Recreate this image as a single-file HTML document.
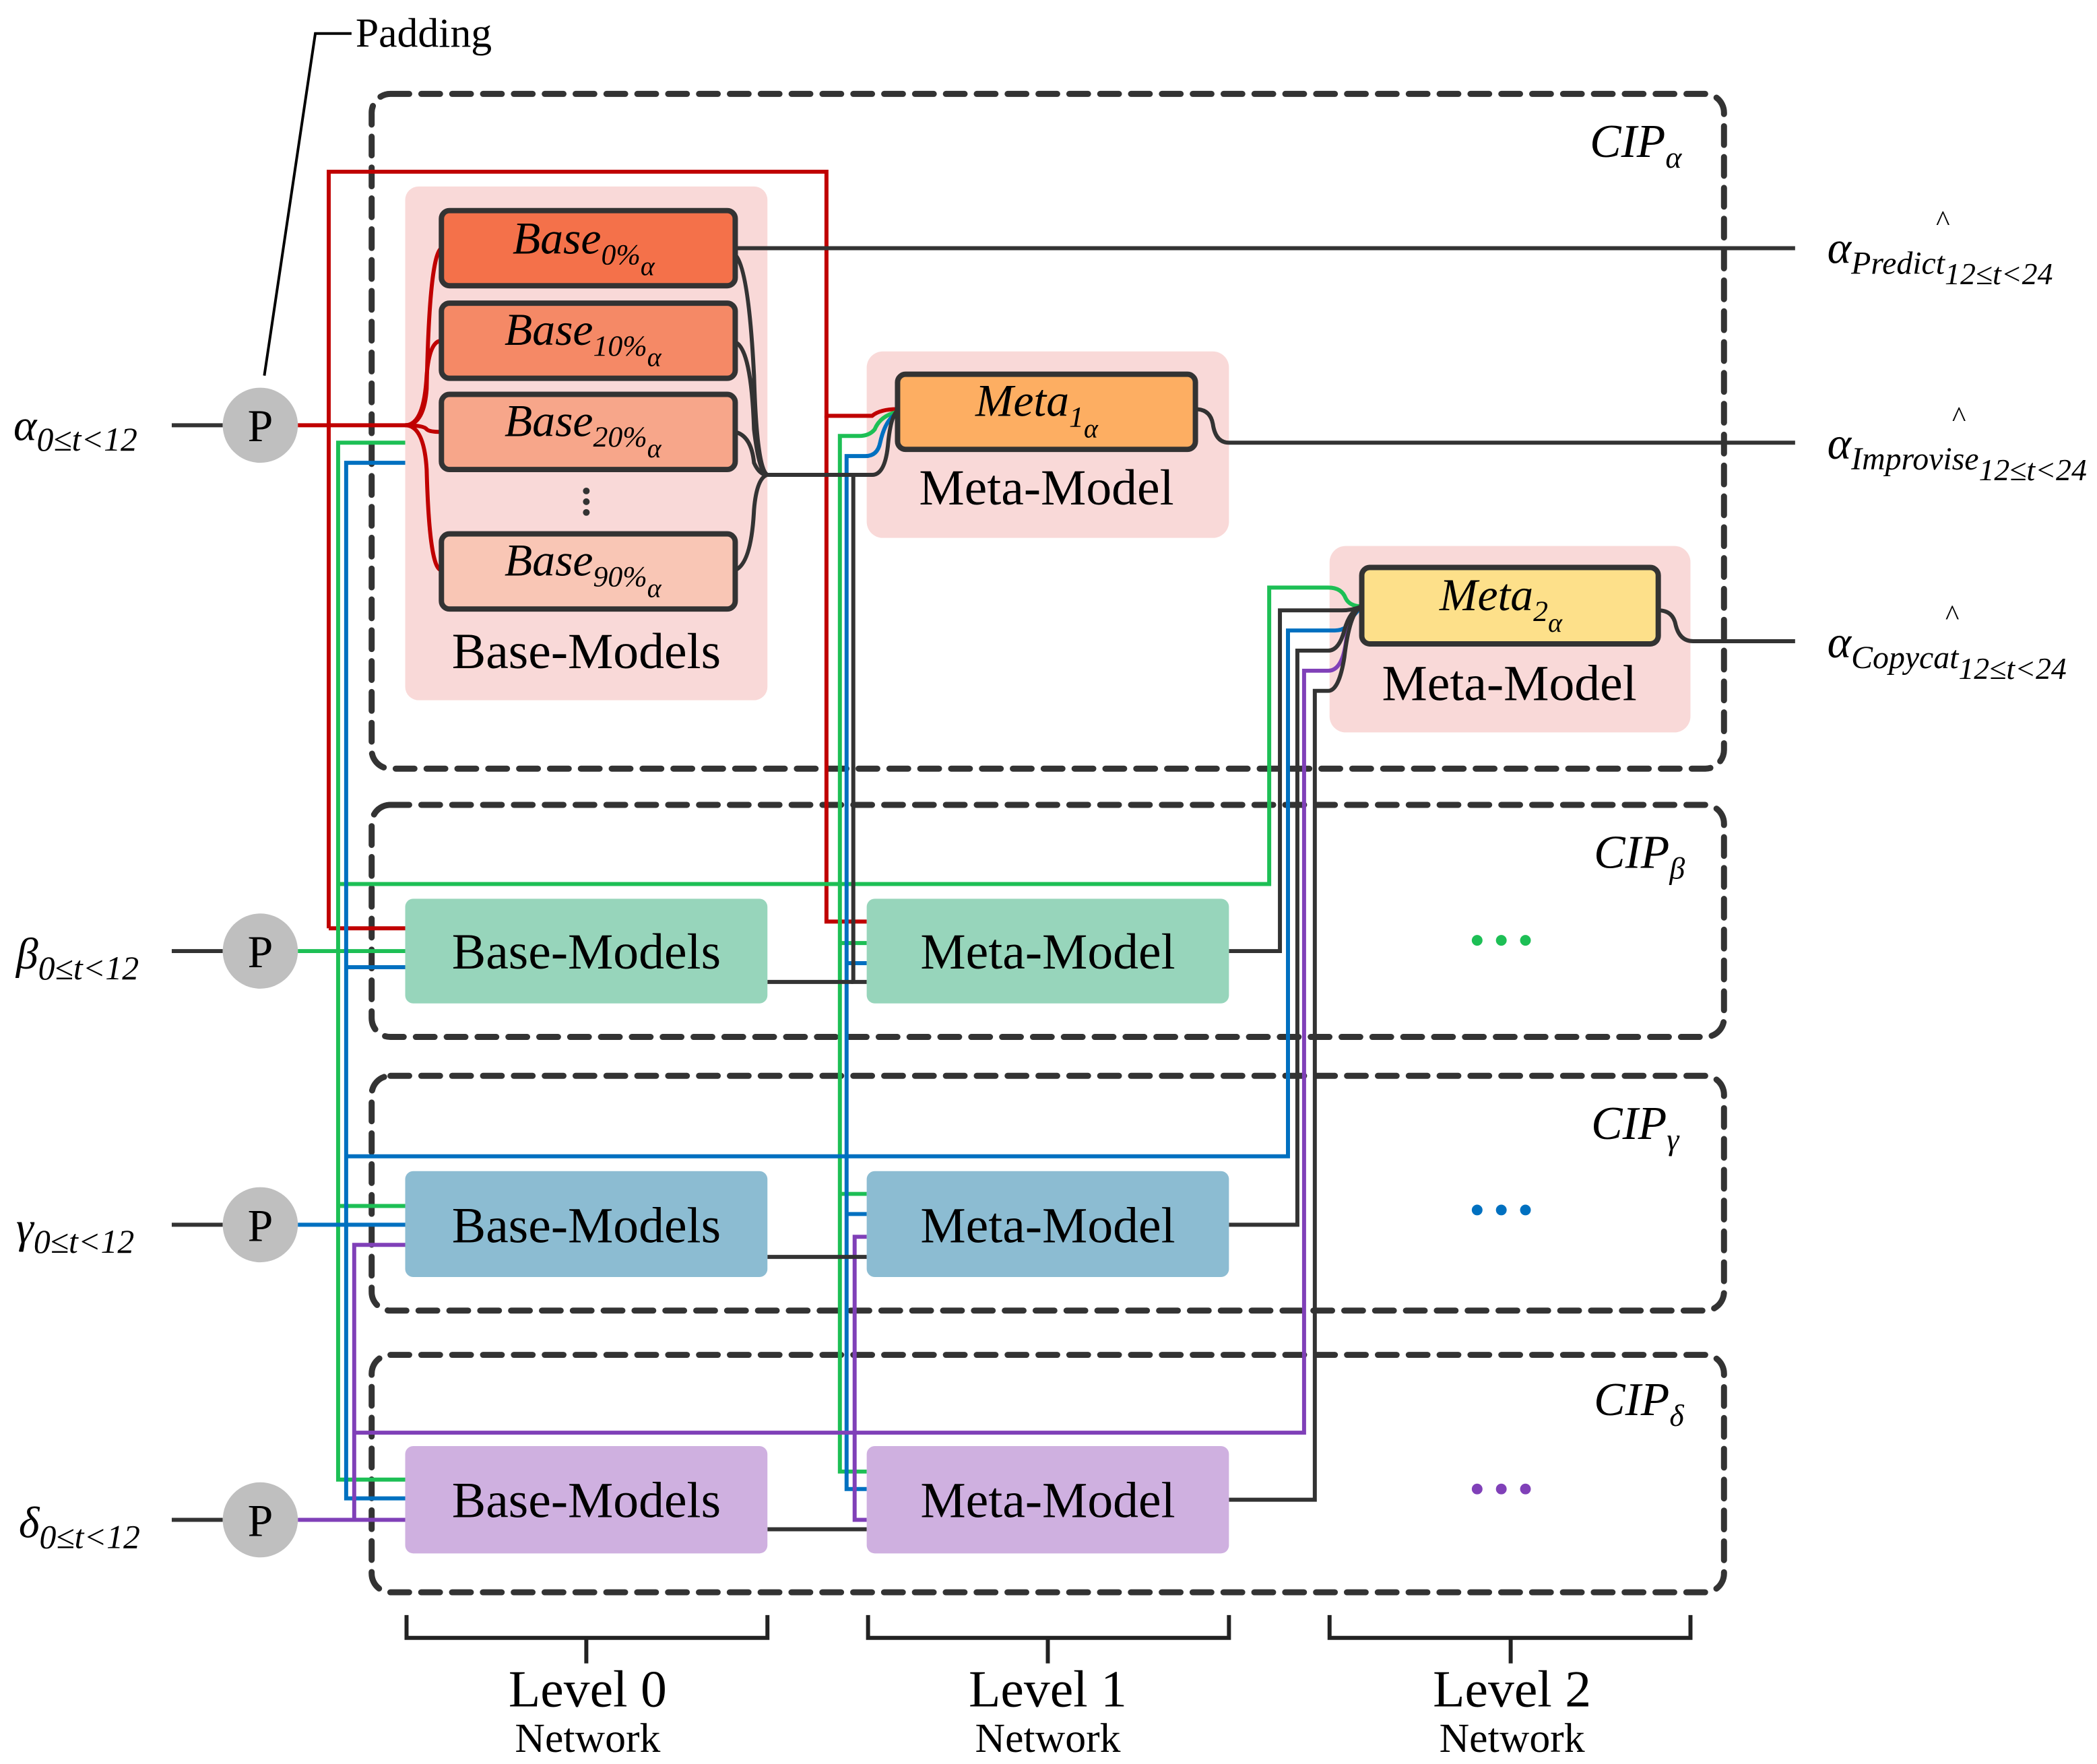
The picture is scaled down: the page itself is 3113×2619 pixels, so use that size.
<!DOCTYPE html>
<html><head><meta charset="utf-8"><style>
html,body{margin:0;padding:0;background:#fff;}
svg{display:block;}
text{font-family:"Liberation Serif",serif;fill:#000;}
.it{font-style:italic;}
</style></head><body>
<svg width="3113" height="2619" viewBox="0 0 1563 1315" xmlns="http://www.w3.org/2000/svg">
<g fill="none" stroke="#333" stroke-width="4.5" stroke-dasharray="14 9" stroke-linecap="round">
<rect x="277" y="70" width="1008" height="503" rx="14"/>
<rect x="277" y="600" width="1008" height="173" rx="14"/>
<rect x="277" y="802" width="1008" height="175" rx="14"/>
<rect x="277" y="1010" width="1008" height="177" rx="14"/>
</g>
<text x="1185" y="117" font-size="35" class="it">CIP<tspan font-size="23" dy="8">α</tspan></text>
<text x="1188" y="647" font-size="35" class="it">CIP<tspan font-size="23" dy="8">β</tspan></text>
<text x="1186" y="849" font-size="35" class="it">CIP<tspan font-size="23" dy="8">γ</tspan></text>
<text x="1188" y="1055" font-size="35" class="it">CIP<tspan font-size="23" dy="8">δ</tspan></text>

<rect x="302" y="139" width="270" height="383" rx="10" fill="#f9d9d8"/>
<rect x="646" y="262" width="270" height="139" rx="12" fill="#f9d9d8"/>
<rect x="991" y="407" width="269" height="139" rx="12" fill="#f9d9d8"/>

<g fill="none" stroke-width="3">
<path d="M222 317 H302" stroke="#c00000"/>
<path d="M245 692 V128 H616 V310 H650 Q656 305 669 305" stroke="#c00000"/>
<path d="M245 692 H302" stroke="#c00000"/>
<path d="M616 310 V687 H646" stroke="#c00000"/>
<path d="M302 330 H252 V1103 H302" stroke="#1dbf55"/>
<path d="M252 899 H302" stroke="#1dbf55"/>
<path d="M252 659 H946 V438 H990 Q1000 438 1003 446 Q1006 452 1015 452" stroke="#1dbf55"/>
<path d="M222 709 H302" stroke="#1dbf55"/>
<path d="M669 307 Q656 310 652 320 Q648 325 640 325 H626 V1097 H646" stroke="#1dbf55"/>
<path d="M626 703 H646 M626 890 H646" stroke="#1dbf55"/>
<path d="M302 345 H258 V1117 H302" stroke="#0070c0"/>
<path d="M258 721 H302" stroke="#0070c0"/>
<path d="M258 862 H960 V470 H995 Q1005 470 1008 460 L1015 452" stroke="#0070c0"/>
<path d="M222 913 H302" stroke="#0070c0"/>
<path d="M669 308 Q660 312 656 330 Q654 340 645 340 H631 V1110 H646" stroke="#0070c0"/>
<path d="M631 718 H646 M631 905 H646" stroke="#0070c0"/>
<path d="M222 1133 H302" stroke="#8040b8"/>
<path d="M264 1133 V928 H302" stroke="#8040b8"/>
<path d="M264 1068 H972 V500 H990 Q1000 500 1003 480 Q1006 456 1015 452" stroke="#8040b8"/>
<path d="M646 1133 H637 V922 H646" stroke="#8040b8"/>
<path d="M128 317 H166 M128 709 H166 M128 913 H166 M128 1133 H166" stroke="#333"/>
<path d="M572 732 H636 M572 937 H646 M572 1140 H646" stroke="#333"/>
<path d="M548 185 H1338" stroke="#333"/>
<path d="M891 305 Q902 305 904 316 Q906 330 916 330 H1338" stroke="#333"/>
<path d="M1236 455 Q1247 455 1249 466 Q1252 478 1262 478 H1338" stroke="#333"/>
<path d="M548 190 Q558 200 562 280 Q564 350 572 354 H650 Q660 354 662 330 Q664 310 669 306" stroke="#333"/>
<path d="M548 255 Q560 260 562 320 Q566 354 572 354" stroke="#333"/>
<path d="M548 322 Q560 325 562 345 Q566 354 572 354" stroke="#333"/>
<path d="M548 425 Q560 420 562 380 Q564 356 572 354" stroke="#333"/>
<path d="M636 354 V732 H646" stroke="#333"/>
<path d="M916 709 H954 V455 H1000 Q1008 455 1015 452" stroke="#333"/>
<path d="M916 913 H967 V485 H990 Q998 485 1002 470 Q1006 455 1015 452" stroke="#333"/>
<path d="M916 1118 H980 V515 H990 Q998 515 1002 490 Q1006 456 1015 452" stroke="#333"/>
<path d="M197 280 L235 25 H262" stroke="#000" stroke-width="2"/>
</g>
<g fill="none" stroke="#c00000" stroke-width="3">
<path d="M302 317 Q316 317 318 290 Q320 190 329 185"/>
<path d="M302 317 Q316 317 318 280 Q320 254 329 254"/>
<path d="M302 317 Q316 317 318 320 Q320 322 329 322"/>
<path d="M302 317 Q316 317 318 350 Q320 425 329 425"/>
</g>

<g stroke="#333" stroke-width="4">
<rect x="329" y="157" width="219" height="56" rx="6" fill="#f4714a"/>
<rect x="329" y="226" width="219" height="56" rx="6" fill="#f58966"/>
<rect x="329" y="294" width="219" height="56" rx="6" fill="#f7a68a"/>
<rect x="329" y="398" width="219" height="56" rx="6" fill="#f9c6b5"/>
<rect x="669" y="279" width="222" height="56" rx="6" fill="#fdae62"/>
<rect x="1015" y="423" width="221" height="57" rx="6" fill="#fde08a"/>
</g>
<text x="382" y="189" font-size="34" class="it">Base<tspan font-size="22" dy="8">0%</tspan><tspan font-size="20" dy="8">α</tspan></text>
<text x="376" y="257" font-size="34" class="it">Base<tspan font-size="22" dy="8">10%</tspan><tspan font-size="20" dy="8">α</tspan></text>
<text x="376" y="325" font-size="34" class="it">Base<tspan font-size="22" dy="8">20%</tspan><tspan font-size="20" dy="8">α</tspan></text>
<text x="376" y="429" font-size="34" class="it">Base<tspan font-size="22" dy="8">90%</tspan><tspan font-size="20" dy="8">α</tspan></text>
<g fill="#333"><circle cx="437" cy="366" r="2.5"/><circle cx="437" cy="374" r="2.5"/><circle cx="437" cy="382" r="2.5"/></g>
<text x="437" y="498" font-size="38" text-anchor="middle">Base-Models</text>
<text x="727" y="310" font-size="34" class="it">Meta<tspan font-size="22" dy="8">1</tspan><tspan font-size="20" dy="8">α</tspan></text>
<text x="780" y="376" font-size="38" text-anchor="middle">Meta-Model</text>
<text x="1073" y="455" font-size="34" class="it">Meta<tspan font-size="22" dy="8">2</tspan><tspan font-size="20" dy="8">α</tspan></text>
<text x="1125" y="522" font-size="38" text-anchor="middle">Meta-Model</text>

<rect x="302" y="670" width="270" height="78" rx="6" fill="#97d5bb"/>
<rect x="646" y="670" width="270" height="78" rx="6" fill="#97d5bb"/>
<rect x="302" y="873" width="270" height="79" rx="6" fill="#8cbcd2"/>
<rect x="646" y="873" width="270" height="79" rx="6" fill="#8cbcd2"/>
<rect x="302" y="1078" width="270" height="80" rx="6" fill="#cfb0e0"/>
<rect x="646" y="1078" width="270" height="80" rx="6" fill="#cfb0e0"/>
<g font-size="38" text-anchor="middle">
<text x="437" y="722">Base-Models</text><text x="781" y="722">Meta-Model</text>
<text x="437" y="926">Base-Models</text><text x="781" y="926">Meta-Model</text>
<text x="437" y="1131">Base-Models</text><text x="781" y="1131">Meta-Model</text>
</g>
<g fill="#1dbf55"><circle cx="1101" cy="701" r="4"/><circle cx="1119" cy="701" r="4"/><circle cx="1137" cy="701" r="4"/></g>
<g fill="#0070c0"><circle cx="1101" cy="902" r="4"/><circle cx="1119" cy="902" r="4"/><circle cx="1137" cy="902" r="4"/></g>
<g fill="#8040b8"><circle cx="1101" cy="1110" r="4"/><circle cx="1119" cy="1110" r="4"/><circle cx="1137" cy="1110" r="4"/></g>

<g fill="#bfbfbf"><circle cx="194" cy="317" r="28"/><circle cx="194" cy="709" r="28"/><circle cx="194" cy="913" r="28"/><circle cx="194" cy="1133" r="28"/></g>
<g font-size="34" text-anchor="middle"><text x="194" y="329">P</text><text x="194" y="721">P</text><text x="194" y="925">P</text><text x="194" y="1145">P</text></g>
<text x="265" y="35" font-size="31">Padding</text>

<text x="10" y="328" font-size="33" class="it">α<tspan font-size="25" dy="8">0≤t&lt;12</tspan></text>
<text x="12" y="722" font-size="33" class="it">β<tspan font-size="25" dy="8">0≤t&lt;12</tspan></text>
<text x="12" y="926" font-size="33" class="it">γ<tspan font-size="25" dy="8">0≤t&lt;12</tspan></text>
<text x="14" y="1146" font-size="33" class="it">δ<tspan font-size="25" dy="8">0≤t&lt;12</tspan></text>

<text x="1362" y="196" font-size="34" class="it">α<tspan font-size="24" dy="8">Predict</tspan><tspan font-size="23" dy="8">12≤t&lt;24</tspan></text>
<text x="1443" y="172" font-size="22">^</text>
<text x="1362" y="342" font-size="34" class="it">α<tspan font-size="24" dy="8">Improvise</tspan><tspan font-size="23" dy="8">12≤t&lt;24</tspan></text>
<text x="1455" y="318" font-size="22">^</text>
<text x="1362" y="490" font-size="34" class="it">α<tspan font-size="24" dy="8">Copycat</tspan><tspan font-size="23" dy="8">12≤t&lt;24</tspan></text>
<text x="1450" y="466" font-size="22">^</text>

<g fill="none" stroke="#222" stroke-width="3">
<path d="M303 1204 V1221 H437 V1240 M437 1221 H572 V1204"/>
<path d="M647 1204 V1221 H781 V1240 M781 1221 H916 V1204"/>
<path d="M991 1204 V1221 H1126 V1240 M1126 1221 H1260 V1204"/>
</g>
<g text-anchor="middle">
<text x="438" y="1272" font-size="39">Level 0</text><text x="438" y="1306" font-size="31">Network</text>
<text x="781" y="1272" font-size="39">Level 1</text><text x="781" y="1306" font-size="31">Network</text>
<text x="1127" y="1272" font-size="39">Level 2</text><text x="1127" y="1306" font-size="31">Network</text>
</g>
</svg>
</body></html>
